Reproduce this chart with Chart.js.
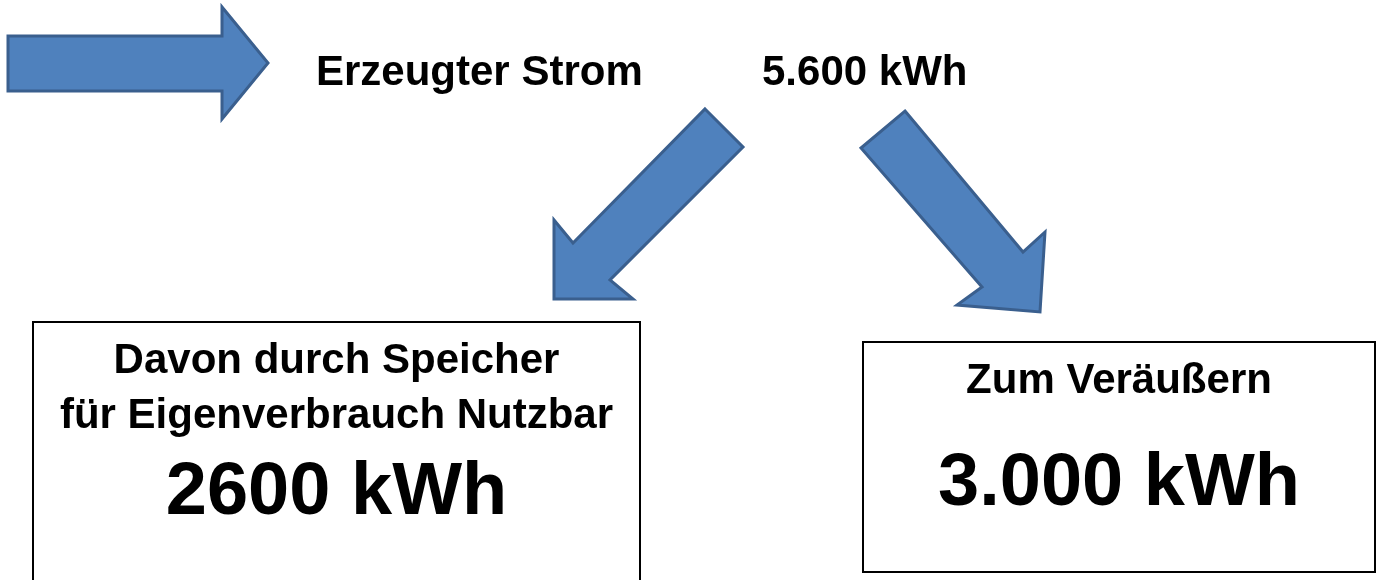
<!DOCTYPE html>
<html>
<head>
<meta charset="utf-8">
<script src="https://cdn.jsdelivr.net/npm/chart.js@4"></script>
<style>
  html, body { margin: 0; padding: 0; background: #fff; }
  #wrap { width: 1383px; height: 580px; }
</style>
</head>
<body>
<div id="wrap"><canvas id="flowChart" width="1383" height="580"></canvas></div>
<script>
// --- Data ---
const categories = ['Erzeugter Strom', 'Davon durch Speicher\nfür Eigenverbrauch Nutzbar', 'Zum Veräußern'];
const valuesKWh = [5600, 2600, 3000];
const useGrouping = [true, false, true];   // the source writes "2600" without a dot
const unit = 'kWh';

function formatValue(i) {
    return valuesKWh[i].toLocaleString('de-DE', { useGrouping: useGrouping[i] }) + ' ' + unit;
}

// --- Styles ---
const arrowFill = '#4F81BD';
const arrowStroke = '#3A5F8E';
const FONT = '"Liberation Sans", Arial, sans-serif';

// shapes are drawn in the scale's value space (0..1383 x 0..580, y pointing down)
const arrows = [
    [[8, 36], [222, 36], [222, 7], [268, 63], [222, 119], [222, 91], [8, 91]],
    [[705, 109], [743, 147], [610, 280], [633, 299], [554, 299], [554, 220], [573, 243]],
    [[905, 111], [1023, 252], [1045, 232], [1040, 312], [957, 305], [982, 287], [861, 148]]
];
const boxes = [
    { x0: 33, y0: 322, x1: 640, y1: 590 },
    { x0: 863, y0: 342, x1: 1375, y1: 572 }
];

const flowPlugin = {
    id: 'flowDiagram',
    afterDraw(chart) {
        const ctx = chart.ctx;
        const sx = chart.scales.x, sy = chart.scales.y;
        const px = v => sx.getPixelForValue(v);
        const py = v => sy.getPixelForValue(v);

        ctx.save();
        // arrows
        arrows.forEach(pts => {
            ctx.beginPath();
            pts.forEach((p, i) => i ? ctx.lineTo(px(p[0]), py(p[1])) : ctx.moveTo(px(p[0]), py(p[1])));
            ctx.closePath();
            ctx.fillStyle = arrowFill;
            ctx.fill();
            ctx.lineWidth = 3;
            ctx.lineJoin = 'miter';
            ctx.strokeStyle = arrowStroke;
            ctx.stroke();
        });

        // boxes
        ctx.lineWidth = 2;
        ctx.strokeStyle = '#000';
        boxes.forEach(b => {
            ctx.strokeRect(px(b.x0), py(b.y0), px(b.x1) - px(b.x0), py(b.y1) - py(b.y0));
        });

        // texts
        ctx.fillStyle = '#000';
        ctx.textBaseline = 'alphabetic';

        // header line
        ctx.textAlign = 'left';
        ctx.font = 'bold 42px ' + FONT;
        ctx.fillText(categories[0], px(316), py(85));
        ctx.fillText(formatValue(0), px(762), py(85));

        ctx.textAlign = 'center';
        // left box
        const cx1 = (px(boxes[0].x0) + px(boxes[0].x1)) / 2;
        ctx.font = 'bold 42px ' + FONT;
        const lines = categories[1].split('\n');
        ctx.fillText(lines[0], cx1, py(373));
        ctx.fillText(lines[1], cx1, py(428));
        ctx.font = 'bold 74px ' + FONT;
        ctx.fillText(formatValue(1), cx1, py(514));

        // right box
        const cx2 = (px(boxes[1].x0) + px(boxes[1].x1)) / 2;
        ctx.font = 'bold 42px ' + FONT;
        ctx.fillText(categories[2], cx2, py(393));
        ctx.font = 'bold 74px ' + FONT;
        ctx.fillText(formatValue(2), cx2, py(505));
        ctx.restore();
    }
};

new Chart(document.getElementById('flowChart'), {
    type: 'scatter',
    data: {
        labels: categories,
        datasets: [{ data: [], pointRadius: 0 }]
    },
    options: {
        responsive: false,
        animation: false,
        devicePixelRatio: 1,
        layout: { padding: 0 },
        plugins: { legend: { display: false }, tooltip: { enabled: false } },
        scales: {
            x: { type: 'linear', min: 0, max: 1383, display: false },
            y: { type: 'linear', min: 0, max: 580, reverse: true, display: false }
        }
    },
    plugins: [flowPlugin]
});
</script>
</body>
</html>
